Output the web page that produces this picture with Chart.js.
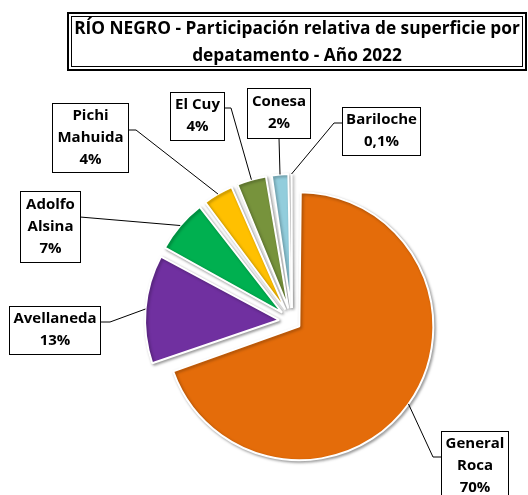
<!DOCTYPE html>
<html>
<head>
<meta charset="utf-8">
<script src="https://cdn.jsdelivr.net/npm/chart.js@4"></script>
<style>
  html, body { margin: 0; padding: 0; background: #fff; }
</style>
</head>
<body>
<canvas id="myChart" width="528" height="495"></canvas>
<script>
const departamentos = ["General Roca", "Avellaneda", "Adolfo Alsina", "Pichi Mahuida", "El Cuy", "Conesa", "Bariloche"];
const participacion = [69.7, 13.2, 6.7, 4.0, 3.9, 2.4, 0.1];
const etiquetasPct = ["70%", "13%", "7%", "4%", "4%", "2%", "0,1%"];
const nombresEtiqueta = [["General", "Roca"], ["Avellaneda"], ["Adolfo", "Alsina"], ["Pichi", "Mahuida"], ["El Cuy"], ["Conesa"], ["Bariloche"]];
const colores = ["#e46c0a", "#7030a0", "#00b050", "#ffc000", "#77933c", "#92cddc", "#4f81bd"];
const titulo = ["RÍO NEGRO - Participación relativa de superficie por", "depatamento - Año 2022"];

const RADIO = 134;

// label boxes placed by hand like in the spreadsheet: [x, y, w, h], where the leader leaves the box
const cajas = [
  { box: [441, 431, 67, 70], side: "left", at: 457, elbow: 8 },
  { box: [9, 306, 91, 48], side: "right", at: 322, elbow: 10 },
  { box: [20, 191, 60, 71], side: "right", at: 217, elbow: 0 },
  { box: [52, 103, 76, 69], side: "right", at: 130, elbow: 8 },
  { box: [170, 92, 54, 48], side: "right", at: 108, elbow: 7 },
  { box: [247, 88, 63, 50], side: "bottom", at: 279, elbow: 0 },
  { box: [342, 107, 78, 48], side: "left", at: 123, elbow: 8 }
];

const ctx = document.getElementById("myChart");

// chart.js grows the radius of an offset slice; pull it back so all slices share one radius
const radioParejo = {
  id: "radioParejo",
  afterDatasetUpdate(chart, args) {
    args.meta.data.forEach((arc) => {
      const off = (arc.options.offset || 0) / 4;
      const fix = 1 - Math.sin(Math.min(Math.PI, arc.circumference || 0));
      arc.outerRadius = RADIO - off * fix;
    });
  }
};

const sombra = {
  id: "sombra",
  beforeDatasetsDraw(chart) {
    const c = chart.ctx;
    c.save();
    c.shadowColor = "rgba(0,0,0,0.35)";
    c.shadowBlur = 3;
    c.shadowOffsetX = 1.5;
    c.shadowOffsetY = 1.5;
  },
  afterDatasetsDraw(chart) {
    chart.ctx.restore();
  }
};

const cajaTitulo = {
  id: "cajaTitulo",
  afterDraw(chart) {
    const c = chart.ctx;
    c.save();
    c.strokeStyle = "#000";
    c.lineWidth = 2;
    c.strokeRect(68, 13, 458, 57);
    c.lineWidth = 1;
    c.strokeRect(71.5, 16.5, 451, 50);
    c.fillStyle = "#000";
    c.textAlign = "center";
    c.textBaseline = "middle";
    let size = 17;
    c.font = "bold " + size + "px 'Open Sans'";
    size = size * 446 / c.measureText(titulo[0]).width;
    c.font = "bold " + size.toFixed(2) + "px 'Open Sans'";
    c.fillText(titulo[0], 297, 29);
    c.fillText(titulo[1], 297, 56);
    c.restore();
  }
};

const etiquetas = {
  id: "etiquetas",
  afterDatasetsDraw(chart) {
    const c = chart.ctx;
    const meta = chart.getDatasetMeta(0);
    c.save();
    meta.data.forEach((arc, i) => {
      const p = arc.getProps(["x", "y", "startAngle", "endAngle", "outerRadius", "circumference"], true);
      const off = (arc.options.offset || 0) / 4;
      const mid = (p.startAngle + p.endAngle) / 2;
      const fix = 1 - Math.sin(Math.min(Math.PI, p.circumference));
      const r = p.outerRadius + off * fix;
      const ax = p.x + Math.cos(mid) * (off + r);
      const ay = p.y + Math.sin(mid) * (off + r);
      const cfg = cajas[i];
      const [bx, by, bw, bh] = cfg.box;
      let sx, sy, ex, ey;
      if (cfg.side === "left") { sx = bx; sy = cfg.at; ex = bx - cfg.elbow; ey = sy; }
      else if (cfg.side === "right") { sx = bx + bw; sy = cfg.at; ex = sx + cfg.elbow; ey = sy; }
      else { sx = cfg.at; sy = by + bh; ex = sx; ey = sy; }
      c.strokeStyle = "#000";
      c.lineWidth = 1;
      c.beginPath();
      c.moveTo(sx, sy);
      c.lineTo(ex, ey);
      c.lineTo(ax, ay);
      c.stroke();
      c.fillStyle = "#fff";
      c.fillRect(bx, by, bw, bh);
      c.strokeRect(bx + 0.5, by + 0.5, bw, bh);
      const lines = nombresEtiqueta[i].concat([etiquetasPct[i]]);
      c.fillStyle = "#000";
      c.font = "bold 15px 'Open Sans'";
      c.textAlign = "center";
      c.textBaseline = "middle";
      const cy = by + bh / 2;
      lines.forEach((t, k) => {
        c.fillText(t, bx + bw / 2 + 0.5, cy + (k - (lines.length - 1) / 2) * 22);
      });
    });
    c.restore();
  }
};

new Chart(ctx, {
  type: "pie",
  data: {
    labels: departamentos,
    datasets: [
      {
        data: participacion,
        backgroundColor: colores,
        borderColor: "#ffffff",
        borderWidth: 2,
        offset: [36, 52, 52, 52, 52, 52, 52],
        radius: RADIO,
        clip: false
      }
    ]
  },
  plugins: [radioParejo, sombra, etiquetas, cajaTitulo],
  options: {
    responsive: false,
    animation: false,
    layout: { padding: { left: 156, right: 100, top: 180, bottom: 33 } },
    plugins: {
      legend: { display: false },
      tooltip: { enabled: false }
    }
  }
});
</script>
</body>
</html>
